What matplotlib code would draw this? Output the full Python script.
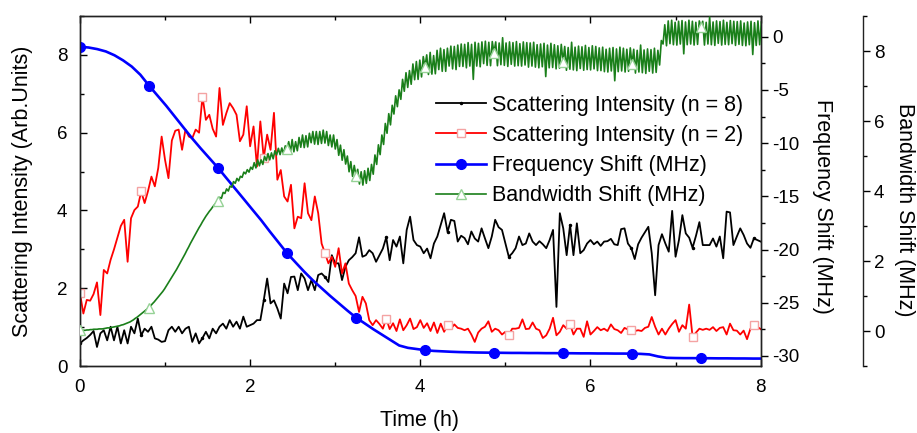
import numpy as np
import matplotlib
matplotlib.use("Agg")
import matplotlib.pyplot as plt
from matplotlib.ticker import MultipleLocator

plt.rcParams['font.family'] = ['Liberation Sans', 'DejaVu Sans']
plt.rcParams['axes.unicode_minus'] = False

# sampling steps (hours) of the recorded traces
DT_SCAT = 0.04
DT_FREQ = 0.1014
DT_BW = 0.020275

# scattering intensity, n = 8 (arb. units)
scat_n8 = [
    0.58, 0.66, 0.72, 0.80, 0.90, 0.49, 0.84, 0.92, 0.66, 1.01,
    0.66, 1.01, 0.58, 0.92, 0.58, 1.01, 0.84, 1.22, 0.79, 0.96,
    0.88, 1.01, 0.71, 0.68, 0.62, 0.64, 0.92, 1.01, 0.88, 1.01,
    0.84, 0.96, 1.01, 0.62, 0.84, 0.58, 0.72, 0.88, 0.71, 0.96,
    0.84, 1.01, 1.09, 0.96, 1.18, 1.01, 1.14, 0.96, 1.27, 1.01,
    1.05, 1.09, 1.18, 1.18, 1.69, 2.25, 1.61, 1.69, 1.48, 1.22,
    2.12, 1.87, 2.29, 2.30, 1.95, 2.38, 2.25, 1.95, 2.21, 1.95,
    2.34, 2.38, 2.29, 2.16, 2.85, 2.64, 2.64, 2.21, 2.55, 2.72,
    2.80, 2.90, 3.31, 2.81, 2.85, 2.98, 2.90, 2.68, 2.85, 3.02,
    3.31, 2.72, 3.24, 3.07, 3.33, 2.64, 3.50, 3.84, 3.24, 3.11,
    3.07, 2.90, 3.02, 2.77, 3.15, 3.33,
    3.63, 3.93, 3.45, 3.76, 3.73, 3.20, 3.35, 3.29, 3.13, 3.46,
    3.28, 3.20, 3.54, 3.28, 3.03, 3.33, 3.76, 3.57, 3.50, 3.15,
    2.81, 2.90, 3.03, 3.33, 3.11, 3.15, 3.41, 3.20, 3.11, 3.21,
    3.13, 3.03, 3.24, 3.50, 1.52, 3.93, 3.54, 2.85, 3.63, 2.85,
    3.67, 2.90, 2.98, 3.15, 3.24, 3.13, 3.20, 3.09, 3.20, 3.21,
    3.27, 3.13, 3.11, 3.52, 3.54, 3.15, 3.03, 2.75, 3.13, 3.30,
    3.44, 3.58, 2.90, 1.82, 3.11, 3.39, 3.15, 2.94, 3.99, 2.81,
    3.24, 3.88, 3.41, 3.30, 3.04, 3.35, 3.70, 3.11, 3.11, 3.11,
    3.28, 3.07, 3.33, 2.77, 3.97, 3.95, 3.11, 3.33, 3.54, 3.37,
    3.15, 3.04, 3.28, 3.24, 3.20,
]

# scattering intensity, n = 2 (arb. units)
scat_n2 = [
    1.87, 1.35, 1.70, 1.68, 1.85, 2.15, 1.31, 2.47, 2.38, 2.73,
    3.00, 3.30, 3.60, 3.76, 2.68, 3.80, 4.01, 4.10, 4.49, 4.19,
    4.50, 4.87, 4.62, 5.09, 5.90, 5.30, 4.83, 5.80, 6.05, 6.08,
    5.56, 6.08, 5.90, 5.86, 6.08, 6.00, 6.93, 6.33, 6.46, 6.10,
    5.90, 7.15, 6.20, 6.50, 6.76, 6.63, 6.46, 5.78, 5.95, 6.68,
    5.65, 6.16, 5.13, 6.29, 5.35, 5.95, 5.56, 6.51, 4.79, 5.04,
    4.36, 4.23, 4.66, 3.54, 3.84, 3.80, 4.70, 3.93, 3.75, 4.36,
    3.93, 3.15, 2.90, 2.64, 2.81, 2.55, 3.03, 2.38, 2.64, 2.12,
    1.95, 1.80, 1.39, 1.78, 1.61, 1.18, 1.05, 1.18, 1.08, 0.96,
    1.22, 0.95, 1.10, 0.90, 1.20, 0.92, 1.05, 1.22, 0.95, 1.00,
    1.18, 0.98, 1.10, 0.90, 1.12, 0.85,
    1.09, 0.88, 1.05, 0.96, 1.07, 0.98, 0.96, 0.92, 0.96, 0.81,
    0.62, 0.86, 0.96, 1.01, 1.15, 0.88, 0.96, 0.92, 0.81, 0.88,
    0.80, 0.96, 0.96, 0.98, 1.20, 0.95, 0.96, 1.12, 0.96, 0.92,
    0.72, 0.79, 0.96, 1.24, 0.79, 0.88, 1.05, 0.96, 1.08, 0.81,
    0.96, 0.96, 0.75, 1.15, 0.81, 0.90, 1.00, 0.92, 0.96, 0.90,
    1.07, 0.95, 0.92, 0.85, 0.98, 0.94, 0.93, 0.90, 0.92, 0.90,
    0.98, 1.01, 1.26, 1.01, 0.81, 0.96, 0.81, 0.96, 1.08, 1.18,
    0.88, 1.05, 0.96, 1.58, 0.75, 0.86, 0.96, 0.93, 0.96, 0.93,
    1.00, 0.90, 0.98, 1.00, 0.81, 1.09, 0.92, 0.91, 0.81, 0.91,
    0.69, 0.96, 1.05, 1.01, 0.95,
]

# frequency shift (MHz)
freq_shift = [
    -0.94, -1.01, -1.16, -1.38, -1.74, -2.22, -2.80, -3.57, -4.59, -5.54,
    -6.49, -7.51, -8.53, -9.55, -10.50, -11.41, -12.32, -13.31, -14.29, -15.27,
    -16.26, -17.24, -18.30, -19.32, -20.34, -21.22, -22.09, -22.90, -23.63, -24.36,
    -25.05, -25.74, -26.40, -26.94, -27.49, -28.00, -28.51, -29.02, -29.24, -29.35,
    -29.46, -29.53, -29.57, -29.61, -29.64, -29.66, -29.68, -29.69, -29.70, -29.71,
    -29.72, -29.72, -29.73, -29.73, -29.74, -29.74, -29.75, -29.75, -29.76, -29.76,
    -29.77, -29.77, -29.78, -29.78, -29.79, -29.81, -29.86, -30.05, -30.18, -30.20,
    -30.21, -30.21, -30.22, -30.22, -30.23, -30.23, -30.24, -30.24, -30.25, -30.25,
]

# bandwidth shift (MHz)
bw_shift = [
    0.02, 0.02, 0.02, 0.02, 0.03, 0.03, 0.04, 0.04, 0.05, 0.05,
    0.05, 0.06, 0.06, 0.06, 0.07, 0.08, 0.09, 0.09, 0.10, 0.11,
    0.12, 0.13, 0.14, 0.15, 0.17, 0.18, 0.20, 0.22, 0.24, 0.26,
    0.29, 0.32, 0.36, 0.39, 0.43, 0.47, 0.51, 0.55, 0.59, 0.63,
    0.67, 0.72, 0.78, 0.83, 0.89, 0.95, 1.01, 1.07, 1.13, 1.20,
    1.28, 1.36, 1.44, 1.52, 1.60, 1.68, 1.76, 1.85, 1.94, 2.03,
    2.12, 2.21, 2.31, 2.40, 2.50, 2.59, 2.68, 2.77, 2.86, 2.95,
    3.03, 3.12, 3.20, 3.28, 3.35, 3.42, 3.48, 3.55, 3.61, 3.67,
    3.72,
    3.82, 3.79, 3.96, 3.93, 4.06, 4.00, 4.14, 4.11, 4.27, 4.22,
    4.36, 4.29, 4.42, 4.39, 4.54, 4.49, 4.61, 4.54, 4.68, 4.62,
    4.81, 4.66, 4.89, 4.72, 4.89, 4.76, 4.99, 4.87, 5.07, 4.89,
    5.09, 4.92, 5.15, 5.03, 5.22, 5.04, 5.23, 5.06, 5.29, 5.20,
    5.41, 5.11, 5.47, 5.12, 5.41, 5.15, 5.53, 5.25, 5.60, 5.24,
    5.58, 5.26, 5.65, 5.38, 5.70, 5.34, 5.70, 5.33, 5.70, 5.36,
    5.74, 5.37, 5.70, 5.30, 5.60, 5.26, 5.60, 5.20, 5.47, 5.02,
    5.31, 4.88, 5.18, 4.77, 5.00, 4.55, 4.84, 4.42, 4.73, 4.44,
    4.62, 4.20, 4.55, 4.17, 4.58, 4.22, 4.65, 4.30, 4.76, 4.48,
    5.03, 4.76, 5.32, 5.04, 5.60, 5.33, 5.93, 5.65, 6.21, 5.89,
    6.45, 6.20, 6.72, 6.41, 6.89, 6.62, 7.19, 6.85, 7.38, 6.96,
    7.44, 7.05, 7.63, 7.18, 7.70, 7.19, 7.74, 7.26, 7.84, 7.55,
    7.89, 7.33, 7.96, 7.34, 7.87, 7.35, 8.02, 7.47, 8.08, 7.42,
    8.04, 7.42, 8.08, 7.57, 8.14, 7.49, 8.13, 7.47, 8.17, 7.56,
    8.20, 7.56, 8.19, 7.52, 8.24, 7.57, 8.19, 7.19, 8.25, 7.57,
    8.22, 7.55, 8.26, 7.64, 8.28, 7.59, 8.25, 7.58, 8.27, 7.95,
    8.26, 7.58, 8.23, 7.61, 8.38, 7.59, 8.23, 7.56, 8.26, 7.62,
    8.24, 7.57, 8.27, 7.58, 8.21, 7.57, 8.26, 7.60, 8.24, 7.54,
    8.23, 7.57, 8.25, 7.54, 8.18, 7.52, 8.20, 7.55, 8.22, 7.27,
    8.17, 7.52, 8.22, 7.53, 8.18, 7.49, 8.15, 7.51, 8.19, 7.70,
    8.13, 7.45, 8.10, 7.48, 8.25, 7.46, 8.11, 7.44, 8.14, 7.50,
    8.12, 7.45, 8.16, 7.47, 8.10, 7.46, 8.15, 7.49, 8.13, 7.44,
    8.09, 7.44, 8.11, 7.41, 8.05, 7.40, 8.08, 7.43, 8.10, 7.15,
    8.06, 7.41, 8.11, 7.43, 8.08, 7.40, 8.05, 7.42, 8.09, 7.62,
    8.05, 7.37, 8.02, 7.40, 8.17, 7.38, 8.03, 7.36, 8.06, 7.42,
    8.04, 7.37, 8.08, 7.39, 8.02,
    7.60, 8.30, 8.20, 8.75, 8.15,
    8.86, 8.21, 8.88, 8.18, 8.82, 8.17, 8.85, 8.20, 8.87, 7.92,
    8.83, 8.18, 8.88, 8.20, 8.85, 8.17, 8.82, 8.19, 8.86, 8.70,
    8.85, 8.17, 8.82, 8.20, 8.97, 8.18, 8.83, 8.16, 8.86, 8.22,
    8.84, 8.17, 8.88, 8.19, 8.82, 8.18, 8.87, 8.21, 8.85, 8.16,
    8.84, 8.19, 8.86, 8.16, 8.80, 8.15, 8.83, 8.18, 8.85, 7.90,
    8.81, 8.16, 8.86, 8.18, 8.83,
]

t_n8 = np.arange(len(scat_n8)) * DT_SCAT
t_n2 = np.arange(len(scat_n2)) * DT_SCAT
t_freq = np.arange(len(freq_shift)) * DT_FREQ
t_bw = np.arange(len(bw_shift)) * DT_BW

fig = plt.figure(figsize=(9.17, 4.33), dpi=100)
ax = fig.add_axes([0.0872, 0.1547, 0.7423, 0.8083])
ax2 = ax.twinx()
ax3 = ax.twinx()

l1, = ax.plot(t_n8, scat_n8, color='black', lw=1.3, marker='.', ms=3,
              markevery=18, label='Scattering Intensity (n = 8)')
l2, = ax.plot(t_n2, scat_n2, color='#ff0000', lw=1.3, marker='s', ms=6,
              mfc='white', mec='#f4a3a3', mew=1.0, markevery=18,
              label='Scattering Intensity (n = 2)')
l3, = ax2.plot(t_freq, freq_shift, color='#0000ff', lw=1.9, marker='o', ms=7,
               mfc='#0000ff', mec='#0000ff', markevery=8,
               label='Frequency Shift (MHz)')
l4, = ax3.plot(t_bw, bw_shift, color='#1a7f1a', lw=1.2, marker='^', ms=7,
               mfc='white', mec='#96d296', mew=1.0, markevery=40,
               label='Bandwidth Shift (MHz)')

ax.set_xlim(0, 8)
ax.set_ylim(0, 9)
ax2.set_ylim(-30.95, 1.95)
ax3.set_ylim(-1, 9)

ax.xaxis.set_major_locator(MultipleLocator(2))
ax.xaxis.set_minor_locator(MultipleLocator(1))
ax.yaxis.set_major_locator(MultipleLocator(2))
ax.yaxis.set_minor_locator(MultipleLocator(1))
ax2.yaxis.set_major_locator(MultipleLocator(5))
ax2.yaxis.set_minor_locator(MultipleLocator(2.5))
ax3.yaxis.set_major_locator(MultipleLocator(2))
ax3.yaxis.set_minor_locator(MultipleLocator(1))

ax.tick_params(axis='both', which='both', direction='in', top=True, right=False,
               labelsize=13.5, pad=9)
ax.tick_params(which='major', length=5, width=1)
ax.tick_params(which='minor', length=3, width=1)
ax2.tick_params(which='both', direction='out', labelsize=13.5, pad=3, width=1)
ax2.tick_params(which='major', length=5)
ax2.tick_params(which='minor', length=3)
ax3.tick_params(which='both', direction='out', labelsize=13.5, pad=3, width=1)
ax3.tick_params(which='major', length=5)
ax3.tick_params(which='minor', length=3)

ax3.spines['right'].set_position(('axes', 1.15))
for name in ['top', 'bottom', 'left']:
    ax3.spines[name].set_visible(False)
for a in (ax, ax2, ax3):
    for s in a.spines.values():
        s.set_linewidth(1.0)
        s.set_color('#222222')

ax.set_xlabel('Time (h)', fontsize=15.5, va='center')
ax.set_ylabel('Scattering Intensity (Arb.Units)', fontsize=15.5, va='center')
ax2.set_ylabel('Frequency Shift (MHz)', fontsize=15.5, rotation=270, va='center')
ax3.set_ylabel('Bandwidth Shift (MHz)', fontsize=15.5, rotation=270, va='center')
ax.xaxis.set_label_coords(0.4995, -0.157)
ax.yaxis.set_label_coords(-0.0837, 0.5)
ax2.yaxis.set_label_coords(1.0915, 0.457)
ax3.yaxis.set_label_coords(1.212, 0.447)

ax3.legend(handles=[l1, l2, l3, l4], loc='upper left',
           bbox_to_anchor=(0.511, 0.80), frameon=False, fontsize=15.5,
           handlelength=2.3, handletextpad=0.3, labelspacing=0.43,
           numpoints=1, borderaxespad=0)

fig.savefig('out.png', dpi=100)
